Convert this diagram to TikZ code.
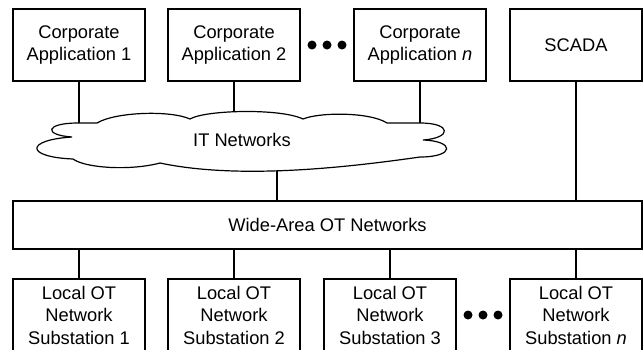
\documentclass[tikz,border=0pt]{standalone}
\usepackage{fontspec}
\setmainfont{Liberation Sans}

\begin{document}
\begin{tikzpicture}[x=1pt,y=-1pt,line width=1.2pt,
    every node/.style={font=\fontsize{18.3}{22.5}\selectfont},
    unitbox/.style={draw,minimum width=132pt,minimum height=72pt,align=center,inner sep=0pt}]
    \useasboundingbox(0,0)rectangle(644,349);
    \clip(0,0)rectangle(644,349);
    % applications
    \node[unitbox](app1)at(79,45){Corporate\\Application 1};
    \node[unitbox](app2)at(234,45){Corporate\\Application 2};
    \node[unitbox](appn)at(420,45){Corporate\\Application \textit{n}};
    \node[unitbox](scada)at(576,45){SCADA};
    \foreach \x in {312,327,342}
        \fill(\x,45)circle(4.5);
    % IT cloud
    \draw(97,123)..controls(115,112)and(170,110)..(190,119)
        ..controls(205,110)and(280,108)..(303,119)
        ..controls(320,112)and(370,112)..(387,123)--(420,123)
        ..controls(452,123)and(452,138)..(423,140)
        ..controls(455,141)and(455,157)..(420,157)
        ..controls(350,167)and(240,180)..(160,163)
        ..controls(130,171)and(85,168)..(73,159)
        ..controls(25,157)and(25,140)..(72,137)
        ..controls(43,135)and(45,123)..(78,123)--cycle;
    \node(it)at(242,140){IT Networks};
    \coordinate(c1)at(79,123);
    \coordinate(c2)at(234,111.8);
    \coordinate(c3)at(420,123);
    \coordinate(cb)at(277,170.5);
    % wide-area
    \node[draw,minimum width=629pt,minimum height=48pt,inner sep=0pt](wan)at(327.5,225){Wide-Area OT Networks};
    % substations
    \node[unitbox](sub1)at(79,315){Local OT\\Network\\Substation 1};
    \node[unitbox](sub2)at(234,315){Local OT\\Network\\Substation 2};
    \node[unitbox](sub3)at(390,315){Local OT\\Network\\Substation 3};
    \node[unitbox](subn)at(576,315){Local OT\\Network\\Substation \textit{n}};
    \foreach \x in {468,483,498}
        \fill(\x,315)circle(4.5);
    % links
    \draw(app1.south)--(c1);
    \draw(app2.south)--(c2);
    \draw(appn.south)--(c3);
    \draw(scada.south)--(scada.south|-wan.north);
    \draw(cb)--(cb|-wan.north);
    \foreach \s in {sub1,sub2,sub3,subn}
        \draw(\s.north|-wan.south)--(\s.north);
\end{tikzpicture}
\end{document}
